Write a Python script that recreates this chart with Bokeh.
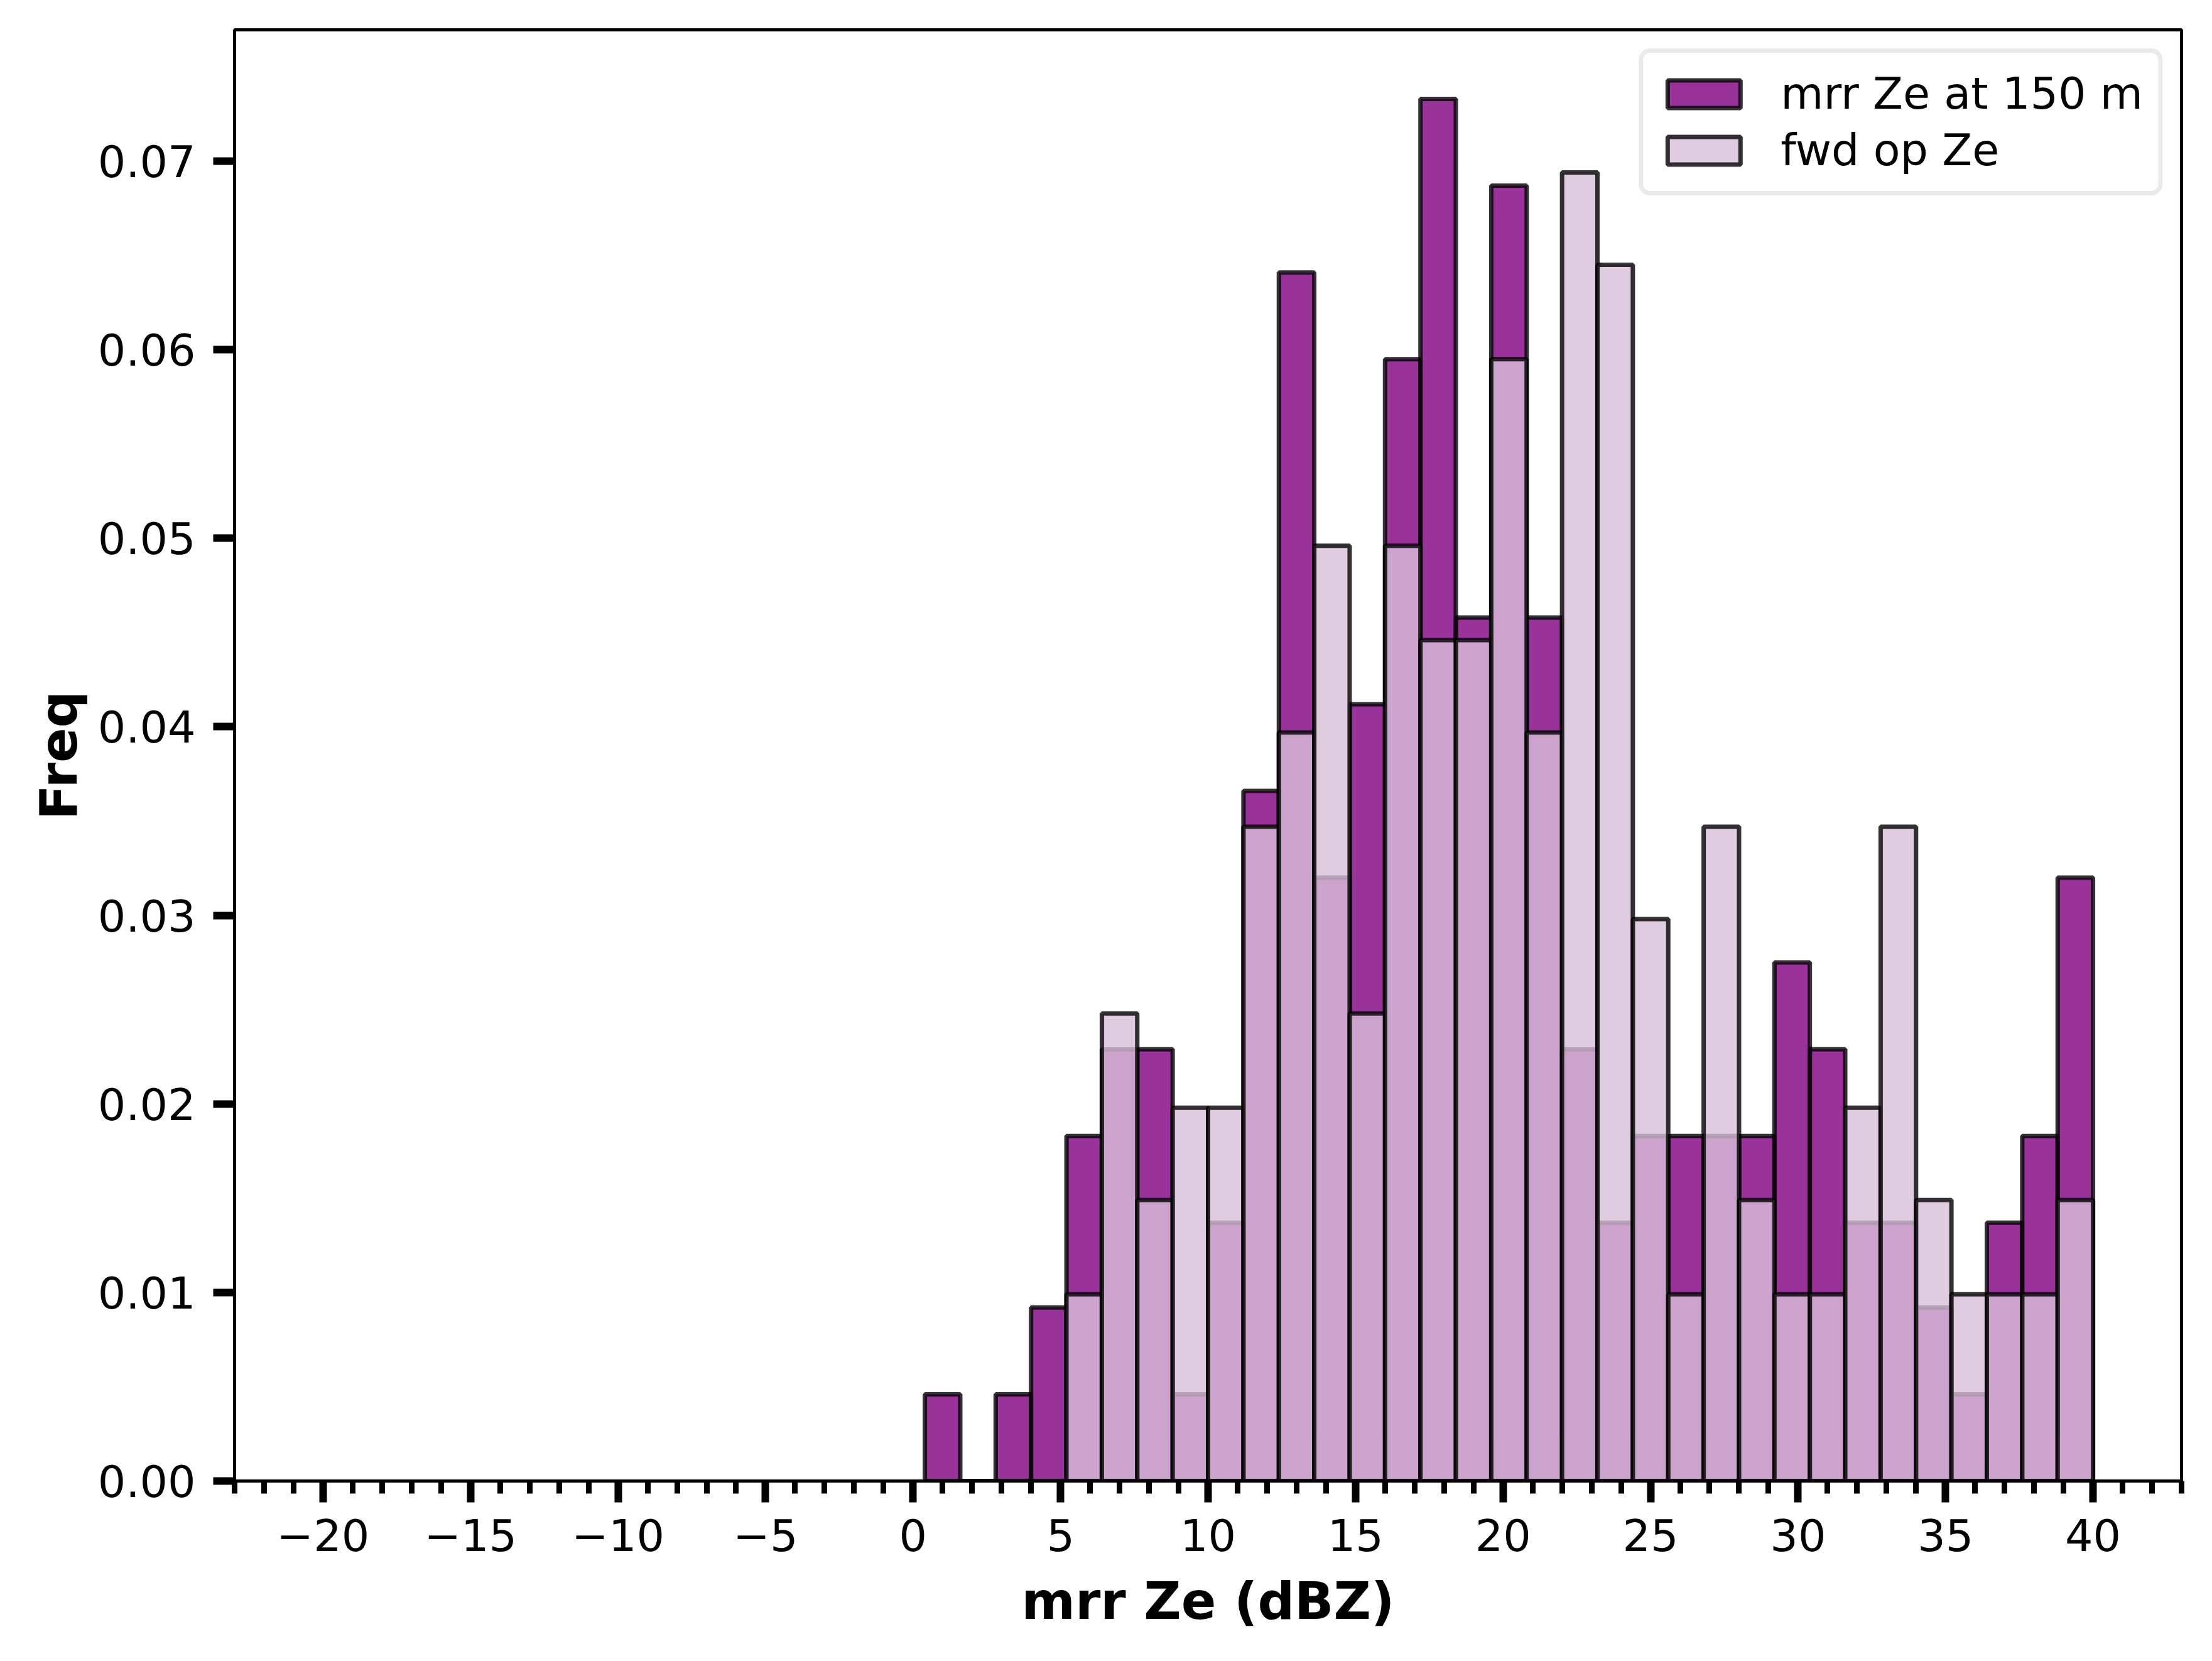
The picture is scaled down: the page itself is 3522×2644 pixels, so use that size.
import numpy as np
from bokeh.plotting import figure
from bokeh.models import (ColumnDataSource, Range1d, SingleIntervalTicker, FixedTicker,
                          CustomJSTickFormatter, Legend, LegendItem)
from bokeh.embed import file_html
from bokeh.resources import INLINE

# ---- data ----
bin_start = -20.0
bin_width = 1.2
n_bins = 50
# density values per bin, bins 17..49 (bins 0..16 are empty)
first_bin = 17
mrr_freq = [0.0046, 0.0, 0.0046, 0.0092, 0.0183, 0.0229, 0.0229, 0.0046, 0.0137,
            0.0366, 0.0641, 0.0320, 0.0412, 0.0595, 0.0733, 0.0458, 0.0687, 0.0458,
            0.0229, 0.0137, 0.0183, 0.0183, 0.0183, 0.0183, 0.0275, 0.0229, 0.0137,
            0.0137, 0.0092, 0.0046, 0.0137, 0.0183, 0.0320]
fwd_freq = [0.0, 0.0, 0.0, 0.0, 0.0099, 0.0248, 0.0149, 0.0198, 0.0198,
            0.0347, 0.0397, 0.0496, 0.0248, 0.0496, 0.0446, 0.0446, 0.0595, 0.0397,
            0.0694, 0.0645, 0.0298, 0.0099, 0.0347, 0.0149, 0.0099, 0.0099, 0.0198,
            0.0347, 0.0149, 0.0099, 0.0099, 0.0099, 0.0149]
y_ticks = [0.0, 0.01, 0.02, 0.03, 0.04, 0.05, 0.06, 0.07]
x_label = "mrr Ze (dBZ)"
y_label = "Freq"
mrr_name = "mrr Ze at 150 m"
fwd_name = "fwd op Ze"

idx = np.arange(first_bin, first_bin + len(mrr_freq))
left = bin_start + bin_width * idx
right = left + bin_width

src_mrr = ColumnDataSource(dict(left=left, right=right, top=mrr_freq))
src_fwd = ColumnDataSource(dict(left=left, right=right, top=fwd_freq))

FONT = "DejaVu Sans"

x_lo = bin_start - 0.05 * (bin_width * n_bins)
x_hi = bin_start + bin_width * n_bins + 0.05 * (bin_width * n_bins)
y_hi = max(max(mrr_freq), max(fwd_freq)) * 1.05

p = figure(width=3506, height=2628, output_backend="svg", toolbar_location=None,
           x_range=Range1d(x_lo, x_hi), y_range=Range1d(0, y_hi),
           min_border_left=373, min_border_right=33, min_border_top=47,
           min_border_bottom=271)
p.background_fill_color = "white"
p.border_fill_color = "white"
p.grid.visible = False
p.outline_line_color = "black"
p.outline_line_width = 5

r_mrr = p.quad(left="left", right="right", bottom=0, top="top", source=src_mrr,
               fill_color="purple", fill_alpha=0.8,
               line_color="black", line_alpha=0.8, line_width=7)
r_fwd = p.quad(left="left", right="right", bottom=0, top="top", source=src_fwd,
               fill_color="thistle", fill_alpha=0.8,
               line_color="black", line_alpha=0.8, line_width=7)

# axes
xa = p.xaxis[0]
xa.ticker = SingleIntervalTicker(interval=5, num_minor_ticks=5)
xa.formatter = CustomJSTickFormatter(code="return (tick < 0 ? '\u2212' : '') + Math.abs(tick).toFixed(0);")
ya = p.yaxis[0]
ya.ticker = FixedTicker(ticks=y_ticks)
ya.formatter = CustomJSTickFormatter(code="return tick.toFixed(2);")

for ax in (xa, ya):
    ax.axis_line_color = "black"
    ax.axis_line_width = 5
    ax.major_tick_line_color = "black"
    ax.major_tick_line_width = 12
    ax.major_tick_out = 34
    ax.major_tick_in = 0
    ax.minor_tick_line_color = "black"
    ax.minor_tick_line_width = 9
    ax.minor_tick_out = 20
    ax.minor_tick_in = 0
    ax.major_label_text_font = FONT
    ax.major_label_text_font_size = "70px"
    ax.major_label_text_color = "black"
    ax.axis_label_text_font = FONT
    ax.axis_label_text_font_size = "82px"
    ax.axis_label_text_font_style = "bold"
    ax.axis_label_text_color = "black"
ya.minor_tick_line_color = None
xa.major_label_standoff = 26
ya.major_label_standoff = 28
xa.axis_label = x_label
ya.axis_label = y_label
xa.axis_label_standoff = 29
ya.axis_label_standoff = 12

legend = Legend(items=[LegendItem(label=mrr_name, renderers=[r_mrr]),
                       LegendItem(label=fwd_name, renderers=[r_fwd])],
                location="top_right", margin=30, padding=24, spacing=8,
                glyph_width=145, glyph_height=55, label_standoff=50,
                label_text_font=FONT, label_text_font_size="70px",
                label_text_color="black",
                border_line_color="#d6d6d6", border_line_width=7,
                background_fill_color="white", background_fill_alpha=0.8)
if "border_radius" in Legend.properties():
    legend.border_radius = 18
p.add_layout(legend)

open("out.html", "w").write(file_html(p, INLINE))
